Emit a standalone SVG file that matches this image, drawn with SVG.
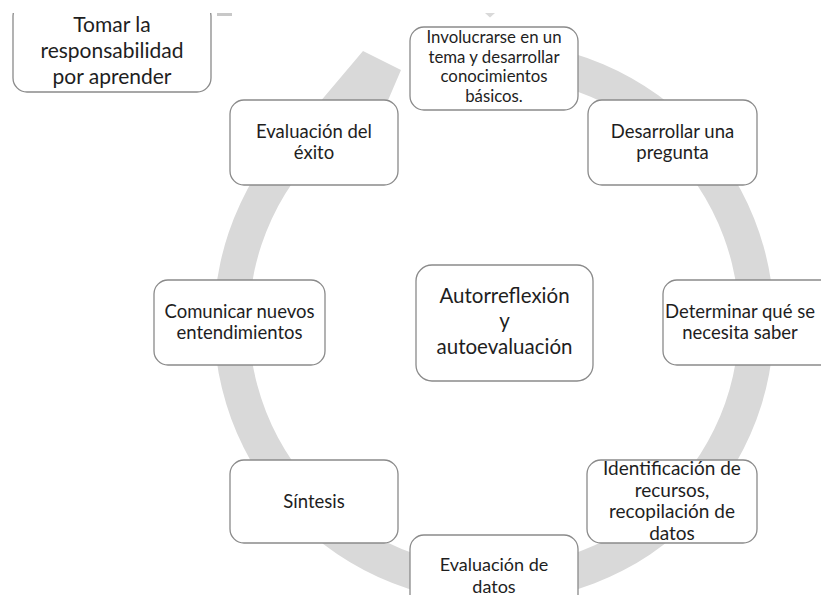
<svg xmlns="http://www.w3.org/2000/svg" width="821" height="595" viewBox="0 0 821 595">
<style>
.box{fill:#fff;stroke:#8a8a8a;stroke-width:1.3}
.t{font-family:Lato,"Liberation Sans",sans-serif;fill:#1e1e1e;text-anchor:middle;font-size:18.5px}
.s{font-size:16.8px}
.id{font-size:19px}
.c{font-size:20.5px}
.big{font-size:21px}
.d{font-size:18px}
.ring{fill:#d9d9d9}
</style>
<rect width="821" height="595" fill="#fff"/>
<g id="connectors">
<path class="ring" d="M542.6,46.3 A280,280 0 1 1 318.2,104.1 L363,51 L401,70 L374,133 L364.2,114.2 A245,245 0 1 0 536.5,80.7 Z"/>
<polygon class="ring" points="485,13 495,13 490,17.5"/>
<rect x="217" y="13" width="15" height="3" fill="#c8c8c8"/>
</g>
<g id="n-tomar">
<rect class="box" x="13" y="2" width="198" height="90" rx="14"/>
<rect x="0" y="0" width="250" height="13" fill="#fff"/>
<text class="t big" x="112" y="32">Tomar la</text>
<text class="t big" x="112" y="58">responsabilidad</text>
<text class="t big" x="112" y="84">por aprender</text>
</g>
<g id="n-involucrarse">
<rect class="box" x="410" y="27" width="168" height="83" rx="14"/>
<text class="t s" x="494" y="43">Involucrarse en un</text>
<text class="t s" x="494" y="62.5">tema y desarrollar</text>
<text class="t s" x="494" y="82">conocimientos</text>
<text class="t s" x="494" y="101.5">básicos.</text>
</g>
<g id="n-desarrollar">
<rect class="box" x="588" y="100" width="169" height="85" rx="14"/>
<text class="t" x="672.5" y="138">Desarrollar una</text>
<text class="t" x="672.5" y="159">pregunta</text>
</g>
<g id="n-determinar">
<rect class="box" x="663" y="280" width="178" height="85" rx="14"/>
<text class="t" x="740" y="318">Determinar qué se</text>
<text class="t" x="740" y="339">necesita saber</text>
</g>
<g id="n-identificacion">
<rect class="box" x="587" y="460" width="170" height="83" rx="14"/>
<text class="t id" x="672" y="475">Identificación de</text>
<text class="t id" x="672" y="496.5">recursos,</text>
<text class="t id" x="672" y="518">recopilación de</text>
<text class="t id" x="672" y="539.5">datos</text>
</g>
<g id="n-evaluacion-datos">
<rect class="box" x="410" y="535" width="168" height="85" rx="14"/>
<text class="t d" x="494" y="571">Evaluación de</text>
<text class="t d" x="494" y="592.5">datos</text>
</g>
<g id="n-sintesis">
<rect class="box" x="230" y="460" width="168" height="83" rx="14"/>
<text class="t" x="314" y="507.5">Síntesis</text>
</g>
<g id="n-comunicar">
<rect class="box" x="154" y="280" width="171" height="85" rx="14"/>
<text class="t" x="239.5" y="318">Comunicar nuevos</text>
<text class="t" x="239.5" y="339">entendimientos</text>
</g>
<g id="n-evaluacion-exito">
<rect class="box" x="230" y="100" width="168" height="85" rx="14"/>
<text class="t" x="314" y="138">Evaluación del</text>
<text class="t" x="314" y="159">éxito</text>
</g>
<g id="n-autorreflexion">
<rect class="box" x="416" y="265" width="177" height="116" rx="16"/>
<text class="t c" x="504.5" y="302.5">Autorreflexión</text>
<text class="t c" x="504.5" y="328">y</text>
<text class="t c" x="504.5" y="353.5">autoevaluación</text>
</g>
</svg>
